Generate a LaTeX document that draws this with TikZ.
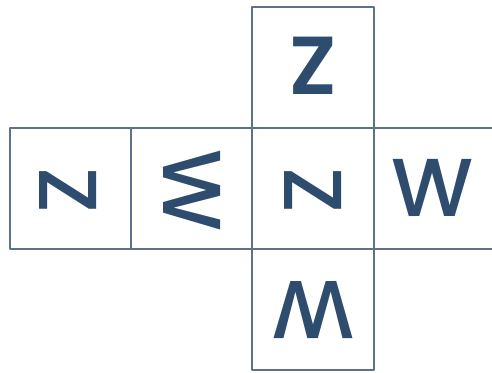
\documentclass[tikz,border=0pt]{standalone}
\usepackage{fontspec}
\setmainfont{Poppins Medium}[BoldFont={Poppins SemiBold}]
\usetikzlibrary{calc}
\definecolor{inkblue}{RGB}{46,77,110}
\definecolor{gridblue}{RGB}{92,114,138}

\begin{document}
\begin{tikzpicture}[x=0.0248cm,y=-0.0248cm, line cap=round, line join=round]

\tikzset{
  grid/.style={draw=gridblue, line width=0.9pt},
  letter/.style={text=inkblue, inner sep=0pt, font=\fontsize{58}{58}\selectfont},
  boldletter/.style={letter, font=\fontsize{58}{58}\selectfont\bfseries}
}

\useasboundingbox (0,0) rectangle (492,373);

% net of the cube
\draw[grid] (252,7) rectangle (374,128);
\draw[grid] (10,128) rectangle (131,249);
\draw[grid] (131,128) rectangle (252,249);
\draw[grid] (252,128) rectangle (374,249);
\draw[grid] (252,249) rectangle (374,370);
\draw[grid] (374,128) -- (492,128);
\draw[grid] (374,249) -- (492,249);

% faces
\node[boldletter] (top) at (313,66) {Z};
\node[letter, rotate=-90] (left) at (68,190) {Z};
\node[letter, rotate=-90] (midleft) at (192,191) {W};
\node[letter, rotate=-90] (centre) at (313,190) {Z};
\node[letter] (right) at (433,188) {W};
\node[letter, rotate=180] (bottom) at (313,310) {W};

\end{tikzpicture}
\end{document}
